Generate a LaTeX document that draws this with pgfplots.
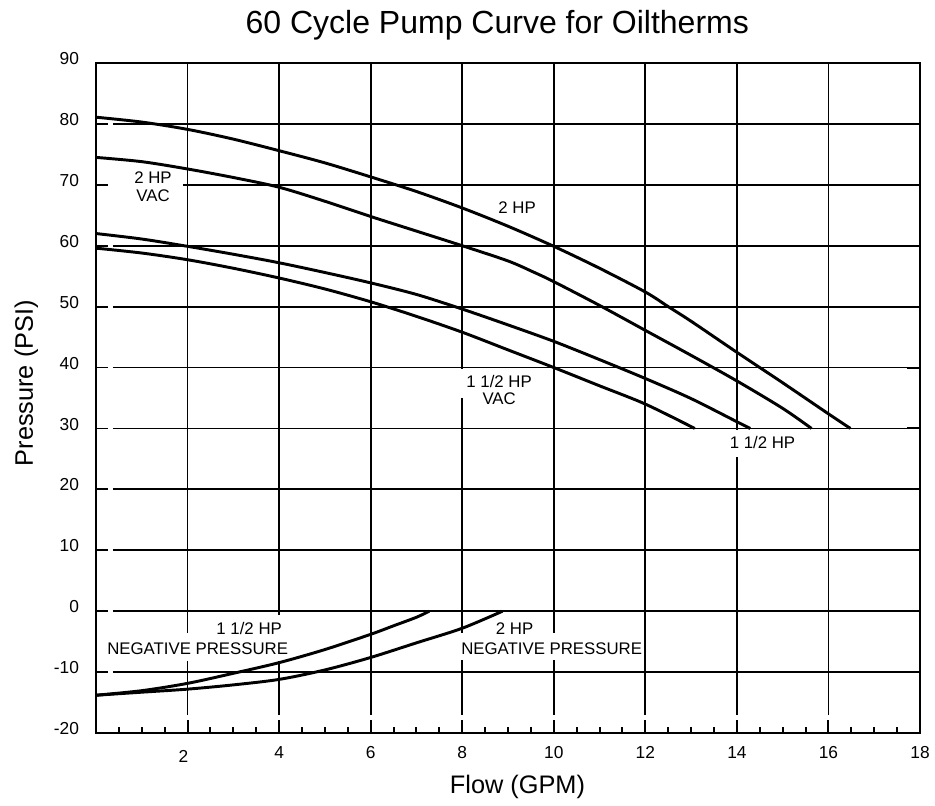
\documentclass[border=0pt]{standalone}
\usepackage{fontspec}
\setmainfont{Liberation Sans}
\usepackage{pgfplots}
\pgfplotsset{compat=1.18}
\newcommand{\tl}{\fontsize{13}{15}\selectfont}
\newcommand{\lbl}{\fontsize{12.6}{13.3}\selectfont}
\begin{document}
\begin{tikzpicture}
\begin{axis}[
  scale only axis, width=618pt, height=502.5pt,
  xmin=0, xmax=18, ymin=-20, ymax=90,
  axis line style={line width=1.9pt, black},
  xtick={2,4,...,18},
  xticklabels={{},4,6,8,10,12,14,16,18},
  minor xtick={0.5,1,...,17.5},
  ytick={-20,-10,...,90},
  xtick pos=left, ytick pos=right, yticklabel pos=left,
  tick align=inside,
  major tick length=9.75pt, minor tick length=4.5pt,
  tick style={line width=1.5pt, black},
  /pgf/number format/assume math mode=true,
  tick label style={font=\tl},
  xticklabel style={inner sep=0pt, anchor=north, yshift=-10.1pt},
  yticklabel style={inner sep=0pt, anchor=east, xshift=-12.6pt, yshift=3.3pt},
  clip=false,
]
% grid
\pgfplotsinvokeforeach{2,4,...,16}{\draw[line width=1.4pt] (axis cs:#1,-17.04) -- (axis cs:#1,90);}
\pgfplotsinvokeforeach{-10,0,...,80}{\draw[line width=1.4pt] (axis cs:0,#1) -- (axis cs:0.26,#1); \draw[line width=1.4pt] (axis cs:0.37,#1) -- (axis cs:18,#1);}
% label backgrounds
\fill[white] (axis cs:0.26,68.6) rectangle (axis cs:1.91,71.4);
\fill[white] (axis cs:7.85,35.0) rectangle (axis cs:8.15,39.75);
\fill[white] (axis cs:13.85,25.26) rectangle (axis cs:14.15,29.75);
\fill[white] (axis cs:1.85,-8.2) rectangle (axis cs:4.15,-3.63);
\fill[white] (axis cs:3.85,-3.7) rectangle (axis cs:4.15,-0.6);
\fill[white] (axis cs:7.85,-8.0) rectangle (axis cs:10.15,-3.63);
% curves
\addplot[line width=2.2pt, smooth, black] coordinates {(0,81.1) (1,80.3) (2,79.1) (3,77.5) (4,75.6) (5,73.6) (6,71.3) (7,68.9) (8,66.2) (9,63.2) (10,59.9) (11,56.3) (12,52.4) (12.5,50.0) (13,47.6) (14,42.5) (15,37.5) (16,32.4) (16.48,30)};
\addplot[line width=2.2pt, smooth, black] coordinates {(0,74.5) (1,73.8) (2,72.6) (3,71.2) (4,69.6) (5,67.3) (6,64.8) (7,62.4) (8,60.0) (9,57.5) (9.55,55.7) (10,54.1) (11,50.2) (12,46.1) (13,42.0) (14,37.8) (15,33.3) (15.63,30)};
\addplot[line width=2.2pt, smooth, black] coordinates {(0,62.0) (1,61.1) (2,59.9) (3,58.6) (4,57.2) (5,55.6) (6,53.9) (7,52.0) (8,49.6) (9,47.0) (10,44.3) (11,41.3) (12,38.2) (13,34.9) (14,31.1) (14.29,30)};
\addplot[line width=2.2pt, smooth, black] coordinates {(0,59.6) (1,58.8) (2,57.7) (3,56.3) (4,54.7) (5,52.9) (6,50.8) (7,48.4) (8,45.8) (9,42.9) (10,40.0) (11,37.0) (12,34.0) (13.08,30)};
\addplot[line width=2.2pt, smooth, black] coordinates {(0,-13.8) (1,-13.05) (2,-11.85) (3,-10.2) (4,-8.45) (5,-6.3) (6,-3.8) (6.5,-2.4) (7,-1.0) (7.28,0)};
\addplot[line width=2.2pt, smooth, black] coordinates {(0,-13.8) (1,-13.3) (2,-12.8) (3,-12.1) (4,-11.2) (5,-9.65) (6,-7.6) (7,-5.2) (8,-2.8) (8.88,0)};
% labels
\node[font=\lbl, align=center, inner sep=0pt] at (axis cs:1.245,69.7) {2 HP\\VAC};
\node[font=\lbl, inner sep=0pt] at (axis cs:9.2,66.2) {2 HP};
\node[font=\lbl, align=center, inner sep=0pt] at (axis cs:8.807,36.3) {1 1/2 HP\\VAC};
\node[font=\lbl, inner sep=0pt] at (axis cs:14.56,27.74) {1 1/2 HP};
\node[font=\lbl, inner sep=0pt] at (axis cs:3.346,-2.84) {1 1/2 HP};
\node[font=\lbl, inner sep=0pt] at (axis cs:2.221,-6.18) {NEGATIVE PRESSURE};
\node[font=\lbl, inner sep=0pt] at (axis cs:9.145,-2.9) {2 HP};
\node[font=\lbl, inner sep=0pt] at (axis cs:9.954,-6.2) {NEGATIVE PRESSURE};
\node[font=\tl, inner sep=0pt, anchor=north, xshift=-3.1pt, yshift=-12.75pt] at (axis cs:2,-20) {2};
% titles
\node[font=\fontsize{24}{28}\selectfont, anchor=base, yshift=22.3pt] at (rel axis cs:0.487,1) {60 Cycle Pump Curve for Oiltherms};
\node[font=\fontsize{19}{23}\selectfont, anchor=base, yshift=-45.2pt] at (rel axis cs:0.5115,0) {Flow (GPM)};
\node[font=\fontsize{19}{23}\selectfont, xshift=-47.25pt, rotate=90, anchor=base] at (rel axis cs:0,0.522) {Pressure (PSI)};
\end{axis}
\pgfresetboundingbox
\path[use as bounding box] (-72pt,-54.75pt) rectangle (629.25pt,549.75pt);
\end{tikzpicture}
\end{document}
